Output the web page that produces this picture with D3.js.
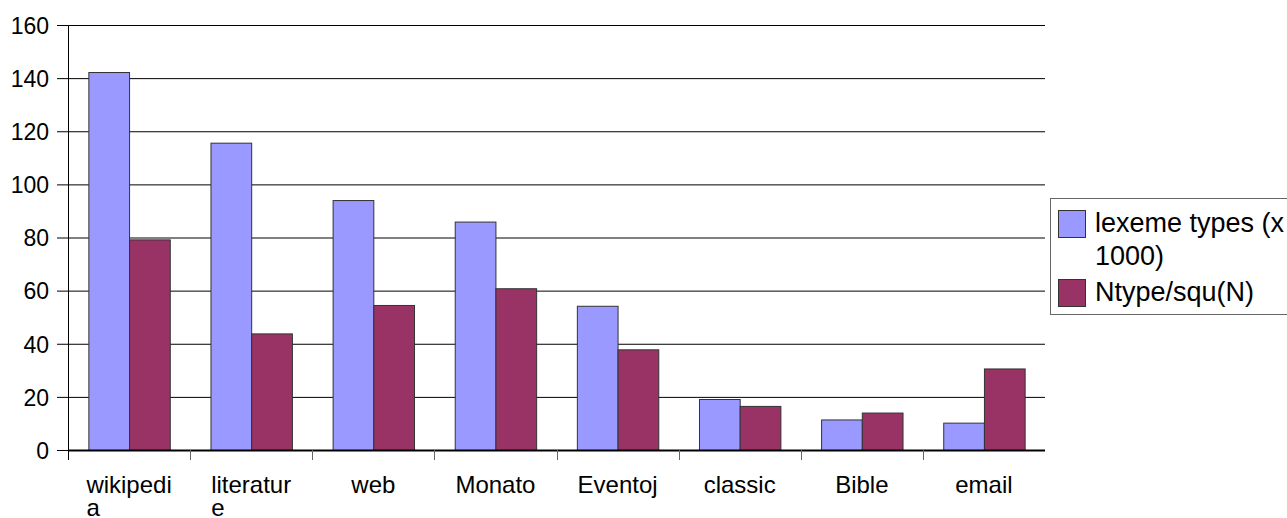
<!DOCTYPE html>
<html>
<head>
<meta charset="utf-8">
<title>lexeme types</title>
<script src="https://d3js.org/d3.v7.min.js"></script>
<style>
  body { margin: 0; background: #fff; }
  text { font-family: 'Liberation Sans', Arial, sans-serif; fill: #000; }
</style>
</head>
<body>
<svg width="1287" height="518"></svg>
<script>
var categories = ["wikipedia", "literature", "web", "Monato", "Eventoj", "classic", "Bible", "email"];
var seriesNames = ["lexeme types (x 1000)", "Ntype/squ(N)"];
var lexemeTypes = [142.3, 115.7, 94.1, 86.0, 54.3, 19.2, 11.5, 10.3];
var ntypeSqu = [79.3, 43.9, 54.6, 60.9, 37.9, 16.6, 14.1, 30.7];
var yTicks = [0, 20, 40, 60, 80, 100, 120, 140, 160];
var colors = ["#9999ff", "#993366"];

var svg = d3.select("svg");
var pLeft = 68, pRight = 1045, pTop = 25, pBottom = 450;

var x0 = d3.scaleBand().domain(categories).range([pLeft, pRight])
    .paddingInner(1 / 3).paddingOuter(1 / 6);
var x1 = d3.scaleBand().domain(d3.range(seriesNames.length)).range([0, x0.bandwidth()]);
var y = d3.scaleLinear().domain([0, 160]).range([pBottom, pTop]);

// gridlines + y ticks
var yAxis = svg.append("g")
    .attr("transform", "translate(" + pLeft + ",0)")
    .call(d3.axisLeft(y).tickValues(yTicks).tickSize(11).tickPadding(8).tickFormat(d3.format("d")));
yAxis.select(".domain").remove();
yAxis.selectAll("line").attr("stroke", "#000").attr("x2", pRight - pLeft).attr("x1", -11);
yAxis.selectAll("text").attr("font-size", 23).attr("dy", "0.36em").attr("fill", "#000")
    .style("font-family", "'Liberation Sans', Arial, sans-serif");

// bars
var rows = categories.map(function(c, i) { return { cat: c, vals: [lexemeTypes[i], ntypeSqu[i]] }; });
svg.append("g").selectAll("g").data(rows).join("g")
    .attr("transform", function(d) { return "translate(" + x0(d.cat) + ",0)"; })
  .selectAll("rect").data(function(d) { return d.vals; }).join("rect")
    .attr("x", function(d, i) { return x1(i) + 0.5; })
    .attr("y", function(d) { return y(d) + 0.5; })
    .attr("width", x1.bandwidth())
    .attr("height", function(d) { return pBottom - y(d); })
    .attr("fill", function(d, i) { return colors[i]; })
    .attr("stroke", "#333")
    .attr("stroke-width", 1);

// axes lines
svg.append("line").attr("x1", pLeft + 0.5).attr("x2", pLeft + 0.5)
    .attr("y1", pTop).attr("y2", pBottom + 10).attr("stroke", "#000");
svg.append("line").attr("x1", pLeft).attr("x2", pRight)
    .attr("y1", pBottom + 0.5).attr("y2", pBottom + 0.5).attr("stroke", "#000").attr("stroke-width", 2);

// category boundary ticks
var half = (x0.step() - x0.bandwidth()) / 2;
var bounds = categories.slice(1).map(function(c) { return x0(c) - half; });
svg.append("g").selectAll("line").data(bounds).join("line")
    .attr("x1", function(d) { return Math.round(d) + 0.5; })
    .attr("x2", function(d) { return Math.round(d) + 0.5; })
    .attr("y1", pBottom).attr("y2", pBottom + 10)
    .attr("stroke", "#666");

// x labels, wrapped by character, block centred, lines left-aligned
function charWrap(textSel, maxW, lineH) {
  textSel.each(function(d) {
    var t = d3.select(this), word = d, lines = [], cur = "";
    var probe = t.append("tspan");
    for (var k = 0; k < word.length; k++) {
      probe.text(cur + word[k]);
      if (probe.node().getComputedTextLength() > maxW && cur.length) { lines.push(cur); cur = word[k]; }
      else cur += word[k];
    }
    lines.push(cur);
    probe.text(lines[0]);
    var w = probe.node().getComputedTextLength();
    probe.remove();
    var cx = +t.attr("x");
    var xs = lines.length > 1 ? cx - w / 2 : cx;
    t.attr("text-anchor", lines.length > 1 ? "start" : "middle");
    t.selectAll("tspan").data(lines).join("tspan")
      .attr("x", xs).attr("dy", function(l, i) { return i ? lineH : 0; })
      .text(function(l) { return l; });
  });
}
svg.append("g").selectAll("text").data(categories).join("text")
    .attr("x", function(d) { return x0(d) + x0.bandwidth() / 2; })
    .attr("y", 493)
    .attr("font-size", 24)
    .call(charWrap, 92, 23);

// legend
var lg = svg.append("g");
lg.append("rect").attr("x", 1050.5).attr("y", 198.5).attr("width", 260).attr("height", 116)
    .attr("fill", "#fff").attr("stroke", "#666");
function wordWrap(str, maxW, size) {
  var probe = svg.append("text").attr("font-size", size), words = str.split(" "), lines = [], cur = "";
  words.forEach(function(w) {
    var test = cur ? cur + " " + w : w;
    probe.text(test);
    if (probe.node().getComputedTextLength() > maxW && cur) { lines.push(cur); cur = w; }
    else cur = test;
  });
  lines.push(cur);
  probe.remove();
  return lines;
}
var ly = 210;
seriesNames.forEach(function(name, i) {
  var lines = wordWrap(name, 200, 27);
  lg.append("rect").attr("x", 1058.5).attr("y", ly + 0.5).attr("width", 27).attr("height", 27)
    .attr("fill", colors[i]).attr("stroke", "#333");
  var t = lg.append("text").attr("x", 1095).attr("y", ly + 22).attr("font-size", 27);
  t.selectAll("tspan").data(lines).join("tspan")
    .attr("x", 1095).attr("dy", function(l, j) { return j ? 33 : 0; })
    .text(function(l) { return l; });
  ly += 3 + lines.length * 33;
});
</script>
</body>
</html>
